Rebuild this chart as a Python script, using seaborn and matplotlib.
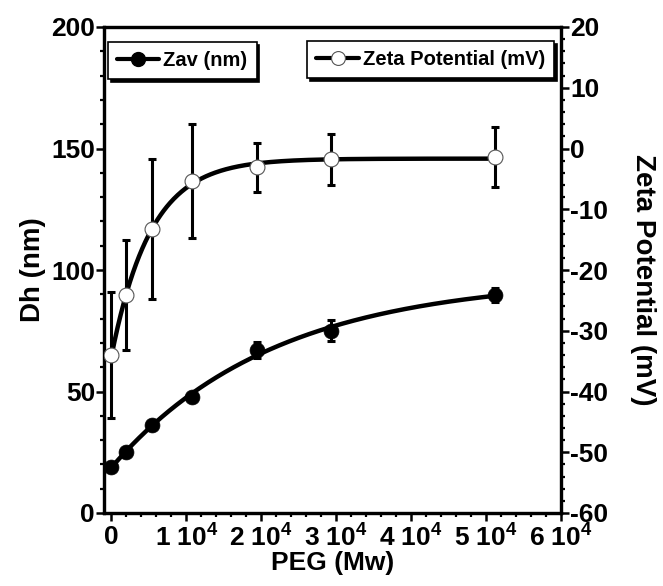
import numpy as np
import matplotlib
matplotlib.use("Agg")
import matplotlib.pyplot as plt
from matplotlib.lines import Line2D
from matplotlib.ticker import MultipleLocator, FixedLocator, FixedFormatter
import seaborn as sns

# PEG molecular weight (x) and the two measured responses
peg_mw = [0, 2000, 5400, 10700, 19400, 29300, 51200]
zav_nm = [19.1, 25.2, 36.2, 47.9, 67.1, 75.0, 89.7]
zav_err = [1.5, 1.5, 1.5, 1.5, 3.2, 4.4, 3.0]
zeta_mv = [-34.0, -24.1, -13.3, -5.3, -3.1, -1.8, -1.4]
zeta_err = [10.4, 9.0, 11.5, 9.4, 4.0, 4.2, 5.0]

x_ticks = [0, 10000, 20000, 30000, 40000, 50000, 60000]
x_tick_labels = ["0", "1 $10^4$", "2 $10^4$", "3 $10^4$", "4 $10^4$", "5 $10^4$", "6 $10^4$"]
left_ticks = [0, 50, 100, 150, 200]
right_ticks = [20, 10, 0, -10, -20, -30, -40, -50, -60]


def exp_fit(x, y, xs):
    """Least-squares fit of y = A - B*exp(-x/c); returns the fitted curve at xs."""
    x = np.asarray(x, float)
    y = np.asarray(y, float)
    best = None
    for c in np.geomspace(500, 500000, 4000):
        M = np.column_stack([np.ones_like(x), -np.exp(-x / c)])
        coef, *_ = np.linalg.lstsq(M, y, rcond=None)
        sse = np.sum((M @ coef - y) ** 2)
        if best is None or sse < best[0]:
            best = (sse, c, coef)
    _, c, (a, b) = best
    return a - b * np.exp(-xs / c)


sns.set_style("ticks")
plt.rcParams["font.family"] = ["Liberation Sans", "DejaVu Sans"]
plt.rcParams["font.weight"] = "bold"
plt.rcParams["axes.labelweight"] = "bold"
plt.rcParams["axes.labelcolor"] = "black"
plt.rcParams["text.color"] = "black"
plt.rcParams["axes.unicode_minus"] = False
plt.rcParams["mathtext.fontset"] = "custom"
plt.rcParams["mathtext.rm"] = "Liberation Sans:bold"
plt.rcParams["mathtext.bf"] = "Liberation Sans:bold"
plt.rcParams["mathtext.default"] = "rm"

fig = plt.figure(figsize=(6.63, 5.86), dpi=100)
ax = fig.add_axes([104 / 663, 1 - 513 / 586, (561 - 104) / 663, (513 - 27) / 586])
ax2 = ax.twinx()

xs = np.linspace(peg_mw[0], peg_mw[-1], 500)

# Hydrodynamic diameter (left axis)
sns.lineplot(x=xs, y=exp_fit(peg_mw, zav_nm, xs), ax=ax, color="black",
             linewidth=3.2, estimator=None, sort=False, zorder=2)
ax.errorbar(peg_mw, zav_nm, yerr=zav_err, fmt="none", ecolor="black",
            elinewidth=2.2, capsize=3, capthick=2.2, zorder=3)
sns.scatterplot(x=peg_mw, y=zav_nm, ax=ax, color="black", s=115,
                marker="o", edgecolor="black", linewidth=0.5, zorder=4)

# Zeta potential (right axis)
sns.lineplot(x=xs, y=exp_fit(peg_mw, zeta_mv, xs), ax=ax2, color="black",
             linewidth=3.2, estimator=None, sort=False, zorder=2)
ax2.errorbar(peg_mw, zeta_mv, yerr=zeta_err, fmt="none", ecolor="black",
             elinewidth=2.2, capsize=3, capthick=2.2, zorder=3)
sns.scatterplot(x=peg_mw, y=zeta_mv, ax=ax2, color="white", s=115,
                marker="o", edgecolor="#555555", linewidth=0.8, zorder=4)

ax.set_xlim(-1000, 60000)
ax.set_ylim(0, 200)
ax2.set_ylim(-60, 20)

ax.xaxis.set_major_locator(FixedLocator(x_ticks))
ax.xaxis.set_major_formatter(FixedFormatter(x_tick_labels))
ax.xaxis.set_minor_locator(MultipleLocator(2000))
ax.yaxis.set_major_locator(FixedLocator(left_ticks))
ax.yaxis.set_minor_locator(MultipleLocator(10))
ax2.yaxis.set_major_locator(FixedLocator(right_ticks))
ax2.yaxis.set_minor_locator(MultipleLocator(2))

for a in (ax, ax2):
    for sp in a.spines.values():
        sp.set_linewidth(2.3)
        sp.set_color("black")
    a.tick_params(which="major", length=5.5, width=1.8, labelsize=19,
                  colors="black", pad=1)
    a.tick_params(which="minor", length=3.2, width=1.6, colors="black")

ax.tick_params(axis="y", which="both", left=True, right=False)
ax.tick_params(axis="x", which="both", top=False, bottom=True, pad=3)
ax2.tick_params(axis="y", which="both", right=True, left=False)

ax.set_xlabel("PEG (Mw)", fontsize=19, fontweight="bold", labelpad=-1,
              color="black")
ax.set_ylabel("Dh (nm)", fontsize=20, fontweight="bold", labelpad=4,
              color="black")
ax2.set_ylabel("Zeta Potential (mV)", fontsize=20, fontweight="bold",
               rotation=270, ha="center", va="center", color="black")
ax2.yaxis.set_label_coords((643 - 104) / 457, 0.48)

for lab in ax.get_xticklabels() + ax.get_yticklabels() + ax2.get_yticklabels():
    lab.set_fontweight("bold")

shadow = {"color": "black", "alpha": 1.0}
h_zav = Line2D([], [], color="black", lw=3, marker="o", ms=10,
               mfc="black", mec="black")
h_zeta = Line2D([], [], color="black", lw=3, marker="o", ms=10,
                mfc="white", mec="#555555", mew=0.8)
leg1 = ax.legend([h_zav], ["Zav (nm)"], loc="upper left",
                 bbox_to_anchor=(108 / 663, 1 - 42 / 586),
                 bbox_transform=fig.transFigure, borderaxespad=0,
                 prop={"size": 14.5, "weight": "bold"}, fancybox=False,
                 shadow=shadow, framealpha=1, edgecolor="black",
                 handlelength=2.1, handletextpad=0.2, borderpad=0.45)
leg1.get_frame().set_linewidth(1.2)
leg2 = ax2.legend([h_zeta], ["Zeta Potential (mV)"], loc="upper right",
                  bbox_to_anchor=(554 / 663, 1 - 41 / 586),
                  bbox_transform=fig.transFigure, borderaxespad=0,
                  prop={"size": 14.5, "weight": "bold"}, fancybox=False,
                  shadow=shadow, framealpha=1, edgecolor="black",
                  handlelength=2.1, handletextpad=0.2, borderpad=0.45)
leg2.get_frame().set_linewidth(1.2)

fig.savefig("out.png", dpi=100, facecolor="white")
